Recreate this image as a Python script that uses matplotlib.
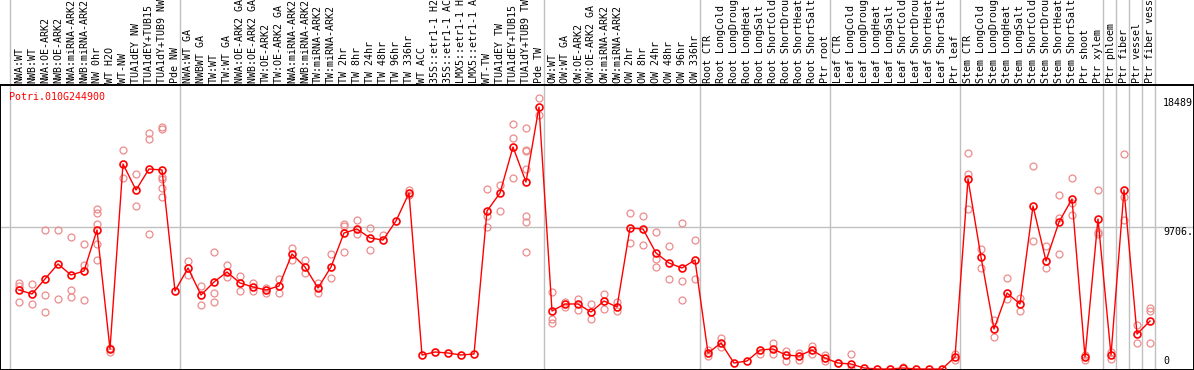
#scientific imports
import numpy as np
import matplotlib
matplotlib.use("Agg")
import matplotlib.pyplot as pl
from matplotlib.transforms import blended_transform_factory

pl.rc('font', family='DejaVu Sans Mono')

gene = "Potri.010G244900"

labels = [
    "NWA:WT", "NWB:WT", "NWA:OE-ARK2", "NWB:OE-ARK2", "NWA:miRNA-ARK2", "NWB:miRNA-ARK2",
    "NW 0hr", "WT H2O", "WT-NW", "TUA1dEY NW", "TUA1dEY+TUB15 NW", "TUA1dY+TUB9 NW", "Pde NW",
    "NWA:WT GA", "NWBWT GA", "TW:WT", "TW:WT GA", "NWA:OE-ARK2 GA", "NWB:OE-ARK2 GA",
    "TW:OE-ARK2", "TW:OE-ARK2 GA", "NWA:miRNA-ARK2", "NWB:miRNA-ARK2", "TW:miRNA-ARK2",
    "TW:miRNA-ARK2", "TW 2hr", "TW 8hr", "TW 24hr", "TW 48hr", "TW 96hr", "TW 336hr",
    "WT ACC", "35S::etr1-1 H2O", "35S::etr1-1 ACC", "LMX5::etr1-1 H2O", "LMX5::etr1-1 ACC",
    "WT-TW", "TUA1dEY TW", "TUA1dEY+TUB15 TW", "TUA1dY+TUB9 TW", "Pde TW",
    "OW:WT", "OW:WT GA", "OW:OE-ARK2", "OW:OE-ARK2 GA", "OW:miRNA-ARK2", "OW:miRNA-ARK2",
    "OW 2hr", "OW 8hr", "OW 24hr", "OW 48hr", "OW 96hr", "OW 336hr",
    "Root CTR", "Root LongCold", "Root LongDrought", "Root LongHeat", "Root LongSalt",
    "Root ShortCold", "Root ShortDrought", "Root ShortHeat", "Root ShortSalt", "Ptr root",
    "Leaf CTR", "Leaf LongCold", "Leaf LongDrought", "Leaf LongHeat", "Leaf LongSalt",
    "Leaf ShortCold", "Leaf ShortDrought", "Leaf ShortHeat", "Leaf ShortSalt", "Ptr leaf",
    "Stem CTR", "Stem LongCold", "Stem LongDrought", "Stem LongHeat", "Stem LongSalt",
    "Stem ShortCold", "Stem ShortDrought", "Stem ShortHeat", "Stem ShortSalt",
    "Ptr shoot", "Ptr xylem", "Ptr phloem", "Ptr fiber", "Ptr vessel", "Ptr fiber vessel",
]

#mean expression per sample
means = [
    5414, 5142, 6163, 7185, 6435, 6708, 9500, 1396, 13995, 12224, 13654, 13586, 5346,
    6912, 5073, 5959, 6640, 5891, 5618, 5414, 5686, 7866, 6980, 5550, 6980, 9296, 9568,
    8955, 8819, 10113, 12020, 987, 1192, 1124, 987, 1056, 10794, 12020, 15152, 12769, 17876,
    3984, 4461, 4461, 3916, 4665, 4256, 9636, 9568, 7934, 7253, 6912, 7457,
    1124, 1805, 443, 579, 1328, 1396, 987, 919, 1328, 783,
    443, 375, 102, 34, 34, 102, 34, 34, 34, 851,
    12973, 7661, 2758, 5210, 4461, 11134, 7389, 10045, 11611, 851, 10249,
    987, 12224, 2418, 3303,
]

#replicate values per sample
reps = [
    [5891, 5686, 4597], [5823, 4461], [9500, 5073, 3916], [9500, 4801], [9023, 5414, 4937],
    [8547, 7116, 4733], [10930, 10658, 9909, 8547, 7457], [1464, 1192], [14948, 13041],
    [13314, 11134], [16106, 15697, 9228], [16514, 16378, 13109, 12973, 12360, 11747], [],
    [7389, 6435], [5686, 4392], [8002, 5210, 4597], [7116, 6299], [6367, 5346], [5891, 5346],
    [5550, 5210], [6163, 5210], [8274, 7457], [7457, 6572], [5891, 5210], [7866, 6231],
    [9909, 9772, 8002], [10181, 9228], [9636, 8138], [9159], [], [12224, 11884],
    [], [], [], [], [], [12292, 10453, 9704], [12564, 10794], [16718, 15765, 13041],
    [16446, 14948, 14880, 13654, 10453, 10045, 8002], [18489, 17331],
    [5278, 3439, 3167], [4597, 4256], [4801, 4052], [4461, 3439], [5142, 4120], [4597, 3984],
    [10658, 8615], [10453, 8478], [9364, 7525, 6980], [8410, 6163], [9977, 6027, 4733],
    [8819, 6163],
    [1328, 919], [2145, 1532], [], [], [1056], [1805, 1056], [1260, 579], [1124, 647],
    [1600, 1056], [987, 579],
    [443], [1056, 34], [], [], [], [170], [], [], [], [1056, 647],
    [14744, 13314, 10930], [8206, 6912], [3371, 2213], [6231, 4801], [4869, 3984],
    [13858, 8751], [8410, 6912], [11884, 10317, 7866], [13041, 11339, 10521], [987, 647],
    [12224, 9364, 9228],
    [1192, 715], [14676, 11747, 10181], [3030, 1805], [4188, 3984, 1805],
]

#last sample index of each block
group_ends = [12, 40, 52, 62, 72, 83, 84, 85, 86, 87]
y_max = 18489
y_mid = 9706

fig = pl.figure(figsize=(11.94, 3.70), dpi=100)
ax = fig.add_axes([0, 0, 1, 285 / 370])

x = np.arange(len(means))
ax.set_xlim(-19 / 13, (1194 - 19) / 13)
ax.set_ylim(-34, 19374)
ax.set_xticks([])
ax.set_yticks([])
for side in ['left', 'right', 'top', 'bottom']:
    ax.spines[side].set_color('black')
    ax.spines[side].set_linewidth(1.4)

grey = '#c0c0c0'
sep_top = 370 / 285
ax.axvline(-0.654, ymin=0, ymax=sep_top, color=grey, lw=1, clip_on=False, zorder=1)
for g in group_ends:
    ax.axvline(g + 0.42, ymin=0, ymax=sep_top, color=grey, lw=1, clip_on=False, zorder=1)
ax.axhline(y_mid, color=grey, lw=1, zorder=1)

for i, r in enumerate(reps):
    if r:
        ax.plot([i] * len(r), r, 'o', mfc='none', mec='#ec8c8c', ms=5, mew=0.9, zorder=2)

ax.plot(x, means, '-', color='red', lw=1.0, zorder=3)
ax.plot(x, means, 'o', mfc='none', mec='red', ms=5, mew=1.2, zorder=4)

trans = blended_transform_factory(ax.transData, ax.transAxes)
for i, lab in enumerate(labels):
    ax.text(i, 1 + 2 / 285, lab, rotation=90, ha='center', va='bottom', fontsize=7.2,
            transform=trans, clip_on=False)

ax.text(9 / 1194, 1 - 12 / 285, gene, color='red', fontsize=7.2, ha='left', va='center',
        transform=ax.transAxes)

xr = (1163 - 19) / 13
ax.text(xr, y_max, str(y_max), fontsize=7.2, ha='left', va='top')
ax.text(xr, y_mid, f"{y_mid}.", fontsize=7.2, ha='left', va='top')
ax.text(xr, 250, "0", fontsize=7.2, ha='left', va='bottom')

fig.savefig("out.png", dpi=100)
pl.close(fig)
